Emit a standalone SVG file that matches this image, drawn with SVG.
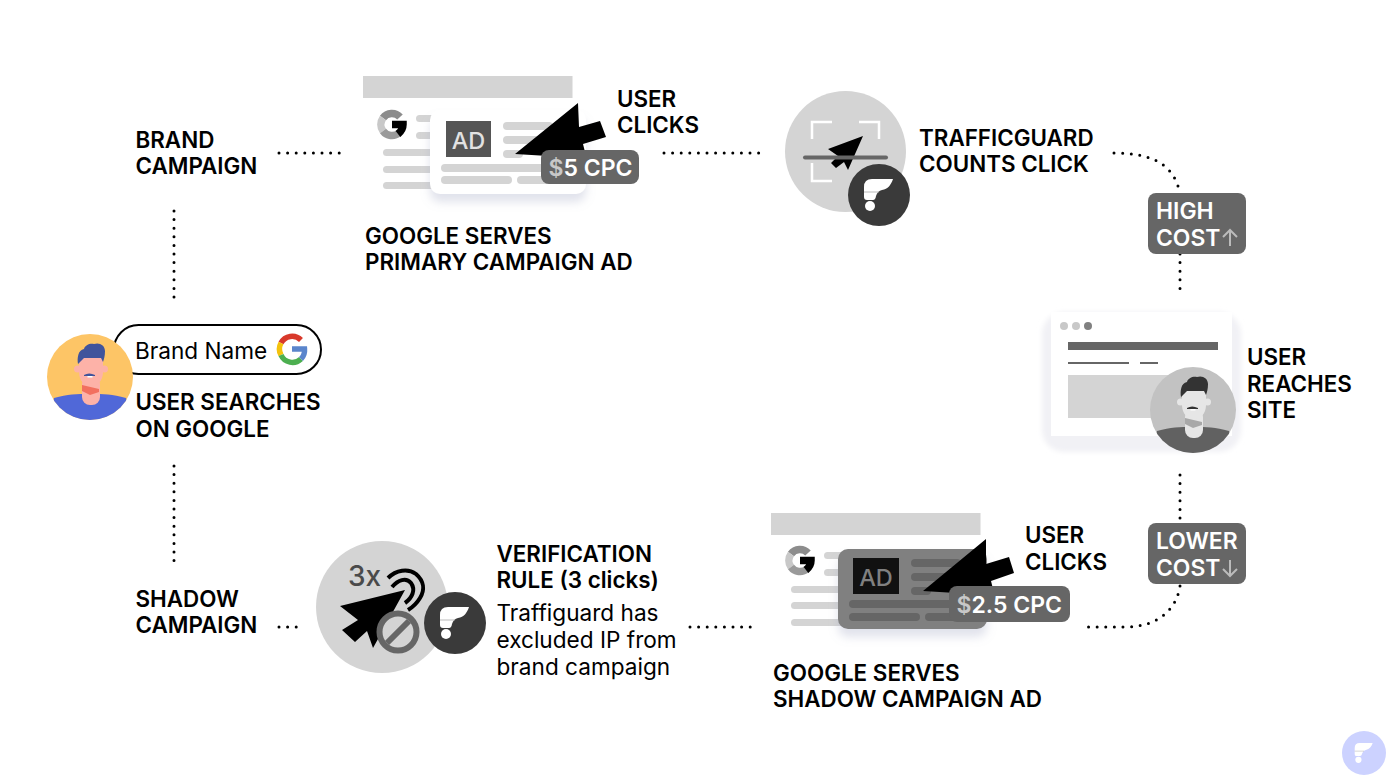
<svg xmlns="http://www.w3.org/2000/svg" width="1393" height="782" viewBox="0 0 1393 782">
<style>
text{font-family:Inter,"Noto Sans","Liberation Sans",sans-serif}
.l{font-size:22.400px;font-weight:600;fill:#000}
.r{font-size:22.600px;font-weight:400;fill:#000}
.tag{font-size:22.900px;font-weight:600;fill:#fff}
.dot{fill:none;stroke:#000;stroke-width:3;stroke-linecap:round;stroke-dasharray:0 8.6}
.bar{fill:#d4d4d4}
.dbar{fill:#666}
</style>
<defs>
<g id="logo">
<path d="M-15-8Q-15-16-7-16H14C12-10 9-6 3-5C0-4.500-2-2-3 1Q-3.500 5-6 5H-12Q-15 5-15 2Z" fill="#fff"/>
<path d="M-15-3H0" stroke="#aaa" stroke-width=".8" fill="none"/>
<circle cx="-9" cy="11" r="5" fill="#fff"/>
</g>
<g id="g-gray" fill="none" stroke-width="7.500">
<path d="M400 117A11 11 0 0 0 383 118" stroke="#8c8c8c"/>
<path d="M383 118A11 11 0 0 0 383 131" stroke="#c8c8c8"/>
<path d="M383 131A11 11 0 0 0 399 133" stroke="#9a9a9a"/>
<path d="M398 134Q403 130 403 124.500H392" stroke="#000"/>
</g>
<filter id="sh" x="-20%" y="-20%" width="140%" height="150%"><feDropShadow dx="0" dy="8" stdDeviation="5" flood-color="#9aa0c0" flood-opacity=".3"/></filter>
<filter id="soft" x="-10%" y="-10%" width="120%" height="120%"><feGaussianBlur stdDeviation="2.500"/></filter>
<filter id="blur1" x="-10%" y="-10%" width="120%" height="120%"><feGaussianBlur stdDeviation=".5"/></filter>
</defs>

<g id="connectors">
<path class="dot" d="M279 153H340"/>
<path class="dot" d="M174 211V298"/>
<path class="dot" d="M174 466V562"/>
<path class="dot" d="M279 627H304"/>
<path class="dot" d="M664 153H763"/>
<path class="dot" d="M1114 153C1148 153 1170 162 1178 186"/>
<path class="dot" d="M1180 254V290"/>
<path class="dot" d="M1180 475V519"/>
<path class="dot" d="M1180 586C1176 612 1155 627 1125 627H1088"/>
<path class="dot" d="M690 627H753"/>
</g>

<g id="node-user">
<rect x="114" y="325" width="207" height="49" rx="24.500" fill="#fff" stroke="#000" stroke-width="2"/>
<text x="135" y="359" font-size="22.600" fill="#000" style="font-weight:400">Brand Name</text>
<g fill="none" stroke-width="5.500">
<path d="M301 340A12.500 12.500 0 0 0 281 343" stroke="#d8392b"/>
<path d="M281 343A12.500 12.500 0 0 0 281 355" stroke="#f4c20d"/>
<path d="M281 355A12.500 12.500 0 0 0 301 359" stroke="#4caf50"/>
<path d="M301 359Q305 355 304.500 349H292" stroke="#5a85cc"/>
</g>
<circle cx="90" cy="377" r="43" fill="#fdc566"/>
<clipPath id="c1"><circle cx="90" cy="377" r="43"/></clipPath>
<g clip-path="url(#c1)">
<path d="M54 398C68 394 76 394 90 394C104 394 112 394 126 398L132 425H48Z" fill="#5068d8"/>
<rect x="82" y="376" width="18" height="29" rx="8" fill="#fdb2a8"/>
<path d="M82 385L99 389V392L90 395L82 391Z" fill="#f2705f"/>
<path d="M79 358H103V372C103 381 97 386 91 386C85 386 79 381 79 372Z" fill="#fdb2a8"/>
<circle cx="77.500" cy="369" r="3.500" fill="#fdb2a8"/><circle cx="104.500" cy="369" r="3.500" fill="#fdb2a8"/>
<path d="M78 364C77 358 78 350 84 349C85 345 90 343 94 344C99 342 105 345 105 351C105 356 104 359 103 362L101 358H84Z" fill="#40549c"/>
<path d="M84 375Q89 372 95 375V376H84Z" fill="#40549c"/>
<rect x="87.500" y="376" width="5" height="1.500" fill="#fff"/>
</g>
<text class="l" x="135.500" y="410">USER SEARCHES</text>
<text class="l" x="135.500" y="437">ON GOOGLE</text>
</g>

<g id="node-brand-campaign">
<text class="l" x="135.500" y="148">BRAND</text>
<text class="l" x="135.500" y="174">CAMPAIGN</text>
</g>
<g id="node-shadow-campaign">
<text class="l" x="135.500" y="607">SHADOW</text>
<text class="l" x="135.500" y="633">CAMPAIGN</text>
</g>

<g id="node-primary-ad">
<rect x="363" y="76" width="209.500" height="22" fill="#d4d4d4"/>
<use href="#g-gray"/>
<rect class="bar" x="416" y="115" width="30" height="7" rx="3.500"/>
<rect class="bar" x="416" y="132" width="30" height="7" rx="3.500"/>
<rect class="bar" x="383" y="149" width="60" height="7" rx="3.500"/>
<rect class="bar" x="383" y="166" width="60" height="7" rx="3.500"/>
<rect class="bar" x="383" y="182" width="60" height="7" rx="3.500"/>
<rect x="430" y="110" width="156" height="84" rx="10" fill="#fff" filter="url(#sh)"/>
<rect x="446" y="121" width="45" height="36" fill="#555"/>
<text x="468.500" y="149" font-size="23.500" text-anchor="middle" fill="#e2e2e2" style="font-weight:500">AD</text>
<rect class="bar" x="503" y="122" width="50" height="8" rx="4"/>
<rect class="bar" x="503" y="136" width="50" height="8" rx="4"/>
<rect class="bar" x="503" y="150" width="20" height="8" rx="4"/>
<rect class="bar" x="441" y="164" width="110" height="8" rx="4"/>
<rect class="bar" x="441" y="176" width="71" height="8" rx="4"/>
<rect class="bar" x="517" y="176" width="35" height="8" rx="4"/>
<path d="M515 154L578 103L579 127L600 121L606 137L583 144L587 160L548 156Z" fill="#000"/>
<rect x="541" y="150" width="98" height="34" rx="8" fill="#666"/>
<text x="548.500" y="176" font-size="23" style="font-weight:600" fill="#fff"><tspan fill="#c8c8c8">$</tspan>5 CPC</text>
<text class="l" x="617" y="107">USER</text>
<text class="l" x="617" y="133">CLICKS</text>
<text class="l" x="365" y="244">GOOGLE SERVES</text>
<text class="l" x="365" y="270">PRIMARY CAMPAIGN AD</text>
</g>

<g id="node-trafficguard">
<circle cx="845.500" cy="151.500" r="60.500" fill="#d4d4d4"/>
<g fill="none" stroke="#fff" stroke-width="2.500">
<path d="M832 122H812V139"/><path d="M859 122H879V139"/><path d="M812 163V181H832"/>
</g>
<path d="M863 136L848 170L844 162L836 168L831 163L838 156L828 149Z" fill="#000"/>
<path d="M805 157.500H886" stroke="#666" stroke-width="4" stroke-linecap="round"/>
<circle cx="879" cy="195" r="31" fill="#3a3a3a"/>
<use href="#logo" x="879" y="195"/>
<text class="l" x="919" y="146">TRAFFICGUARD</text>
<text class="l" x="919" y="172">COUNTS CLICK</text>
</g>

<g id="node-high-cost">
<rect x="1148" y="193" width="98" height="61" rx="8" fill="#666"/>
<text class="tag" x="1156" y="219">HIGH</text>
<text class="tag" x="1156" y="246">COST</text>
<path d="M1230 246V230M1223 237L1230 230L1237 237" fill="none" stroke="#bbb" stroke-width="2"/>
</g>

<g id="node-site">
<rect x="1042" y="312" width="199" height="140" rx="22" fill="#f1f1f5" filter="url(#soft)"/>
<rect x="1051" y="312" width="181" height="124" fill="#fff" filter="url(#blur1)"/>
<circle cx="1064" cy="326" r="4" fill="#c8c8c8"/>
<circle cx="1076" cy="326" r="4" fill="#c8c8c8"/>
<circle cx="1088" cy="326" r="4" fill="#808080"/>
<rect x="1068" y="342" width="150" height="8" fill="#666"/>
<rect x="1068" y="362" width="61" height="2" fill="#666"/>
<rect x="1140" y="362" width="18" height="2" fill="#666"/>
<rect x="1068" y="375" width="150" height="43" fill="#d4d4d4"/>
<circle cx="1193" cy="410" r="43" fill="#c2c2c2"/>
<clipPath id="c2"><circle cx="1193" cy="410" r="43"/></clipPath>
<g clip-path="url(#c2)">
<path d="M1157 431C1171 427 1179 427 1193 427C1207 427 1215 427 1229 431L1235 458H1151Z" fill="#616161"/>
<rect x="1185" y="409" width="18" height="29" rx="8" fill="#e6e6e6"/>
<path d="M1185 418L1202 422V425L1193 428L1185 424Z" fill="#a8a8a8"/>
<path d="M1182 391H1206V405C1206 414 1200 419 1194 419C1188 419 1182 414 1182 405Z" fill="#e6e6e6"/>
<circle cx="1180.500" cy="402" r="3.500" fill="#e6e6e6"/><circle cx="1207.500" cy="402" r="3.500" fill="#e6e6e6"/>
<path d="M1181 397C1180 391 1181 383 1187 382C1188 378 1193 376 1197 377C1202 375 1208 378 1208 384C1208 389 1207 392 1206 395L1204 391H1187Z" fill="#333"/>
<path d="M1187 408Q1192 405 1198 408V409H1187Z" fill="#333"/>
<rect x="1190.500" y="409" width="5" height="1.500" fill="#fff"/>
</g>
<text class="l" x="1247" y="365">USER</text>
<text class="l" x="1247" y="392">REACHES</text>
<text class="l" x="1247" y="418">SITE</text>
</g>

<g id="node-lower-cost">
<rect x="1148" y="523" width="98" height="61" rx="8" fill="#666"/>
<text class="tag" x="1156" y="549">LOWER</text>
<text class="tag" x="1156" y="576">COST</text>
<path d="M1230 560V576M1223 569L1230 576L1237 569" fill="none" stroke="#bbb" stroke-width="2"/>
</g>

<g id="node-shadow-ad">
<rect x="771" y="513" width="209.500" height="22" fill="#d4d4d4"/>
<use href="#g-gray" x="408" y="436"/>
<rect class="bar" x="824" y="552" width="30" height="7" rx="3.500"/>
<rect class="bar" x="824" y="569" width="30" height="7" rx="3.500"/>
<rect class="bar" x="791" y="586" width="60" height="7" rx="3.500"/>
<rect class="bar" x="791" y="602" width="60" height="7" rx="3.500"/>
<rect class="bar" x="791" y="619" width="60" height="7" rx="3.500"/>
<rect x="838" y="549" width="149" height="80" rx="10" fill="#808080" filter="url(#sh)"/>
<rect x="853" y="558" width="46" height="36" fill="#111"/>
<text x="876" y="586" font-size="23.500" text-anchor="middle" fill="#808080" style="font-weight:500">AD</text>
<rect class="dbar" x="911" y="559" width="50" height="8" rx="4"/>
<rect class="dbar" x="911" y="573" width="50" height="8" rx="4"/>
<rect class="dbar" x="911" y="587" width="20" height="8" rx="4"/>
<rect class="dbar" x="849" y="600" width="110" height="8" rx="4"/>
<rect class="dbar" x="849" y="613" width="71" height="8" rx="4"/>
<rect class="dbar" x="925" y="613" width="35" height="8" rx="4"/>
<path d="M923 591L986 539L986 564L1009 557L1014 573L991 581L995 597L956 593Z" fill="#000"/>
<rect x="949" y="586" width="121" height="36" rx="8" fill="#666"/>
<text x="956.500" y="613" font-size="23" style="font-weight:600" fill="#fff"><tspan fill="#c8c8c8">$</tspan>2.5 CPC</text>
<text class="l" x="1025" y="543">USER</text>
<text class="l" x="1025" y="570">CLICKS</text>
<text class="l" x="773" y="681">GOOGLE SERVES</text>
<text class="l" x="773" y="707">SHADOW CAMPAIGN AD</text>
</g>

<g id="node-verification">
<circle cx="382" cy="607" r="66" fill="#d4d4d4"/>
<text x="348" y="586" font-size="28" fill="#4a4a4a" style="font-weight:500">3x</text>
<g fill="none" stroke="#000" stroke-width="4">
<path d="M392 587C398 580 406 577 411 583C416 590 412 598 405 603"/>
<path d="M388 578C396 570 408 568 416 574C424 581 425 590 420 598C417 603 413 607 408 610"/>
</g>
<path d="M405 590L340 606L358 620L342 630L355 642L367 631L373 648Z" fill="#000"/>
<circle cx="398" cy="632" r="18.500" fill="#d4d4d4" stroke="#666" stroke-width="6"/>
<path d="M387 643L409 621" stroke="#666" stroke-width="6"/>
<circle cx="455" cy="623" r="31" fill="#3a3a3a"/>
<use href="#logo" x="455" y="623"/>
<text class="l" x="496.500" y="562">VERIFICATION</text>
<text class="l" x="496.500" y="588">RULE (3 clicks)</text>
<text class="r" x="496.500" y="621">Traffiguard has</text>
<text class="r" x="496.500" y="648">excluded IP from</text>
<text class="r" x="496.500" y="675">brand campaign</text>
</g>

<g id="node-watermark">
<circle cx="1364" cy="753" r="22" fill="#ccd2ff"/>
<g transform="translate(1364 753) scale(.62)"><use href="#logo"/></g>
</g>
</svg>
